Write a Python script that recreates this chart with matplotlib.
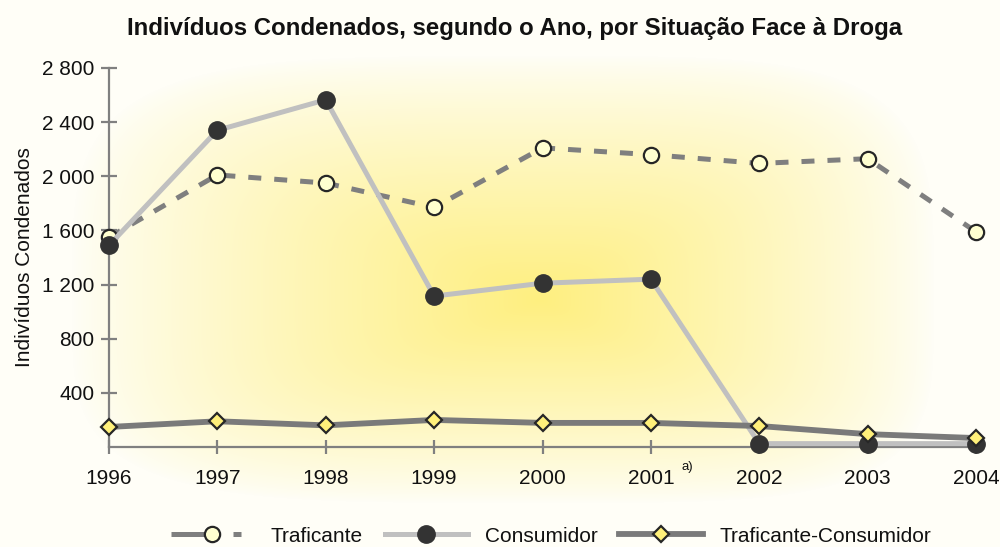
import numpy as np
import matplotlib
matplotlib.use("Agg")
import matplotlib.pyplot as plt
from matplotlib.lines import Line2D

plt.rcParams['font.family'] = ['Liberation Sans', 'DejaVu Sans']

years = [1996, 1997, 1998, 1999, 2000, 2001, 2002, 2003, 2004]
traficante = [1550, 2010, 1950, 1770, 2210, 2160, 2095, 2130, 1590]
consumidor = [1490, 2340, 2565, 1115, 1210, 1240, 25, 25, 25]
traf_cons = [148, 190, 160, 200, 178, 178, 155, 95, 66]
y_ticks = [400, 800, 1200, 1600, 2000, 2400, 2800]
y_tick_labels = ['400', '800', '1 200', '1 600', '2 000', '2 400', '2 800']

W, H = 1000, 547
bg = np.array([255, 254, 247]) / 255
center = np.array([254, 239, 128]) / 255

fig = plt.figure(figsize=(W / 100, H / 100), dpi=100, facecolor=bg)

# soft yellow glow behind the plot area
gax = fig.add_axes([0, 0, 1, 1], zorder=-5)
gax.set_xlim(0, W)
gax.set_ylim(H, 0)
gax.axis('off')
x0, x1, y0, y1 = 72, 934, 56, 503
cx, cy = 540, 300
xs = np.arange(x0, x1) + 0.5
ys = np.arange(y0, y1) + 0.5
X, Y = np.meshgrid(xs, ys)
dx = np.where(X < cx, (cx - X) / (cx - x0), (X - cx) / (x1 - cx))
dy = np.where(Y < cy, (cy - Y) / (cy - y0), (Y - cy) / (y1 - cy))
p = 4.0
t = np.clip((dx ** p + dy ** p) ** (1 / p), 0, 1)
w = (1 - t) ** 0.85
img = bg[None, None, :] * (1 - w[..., None]) + center[None, None, :] * w[..., None]
gax.imshow(img, extent=[x0, x1, y1, y0], interpolation='bilinear', aspect='auto')

ax = fig.add_axes([0.109, 1 - 447 / H, 0.867, (447 - 68) / H])
ax.set_facecolor('none')
ax.set_xlim(1996, 2004)
ax.set_ylim(0, 2800)

traf_style = dict(color='#7f7f7f', lw=3.6, marker='o', ms=11,
                  mfc='#FFFFD0', mec='#262626', mew=1.6)
cons_style = dict(color='#c0c0c0', lw=3.6, marker='o', ms=12.5,
                  mfc='#333333', mec='#333333', mew=1)
tc_style = dict(color='#7a7a7a', lw=4.2, marker='D', ms=8.5,
                mfc='#FFF07A', mec='#262626', mew=1.6)

ax.plot(years, traficante, dashes=(2.6, 2.6), clip_on=False, zorder=3, **traf_style)
ax.plot(years, consumidor, clip_on=False, zorder=4, **cons_style)
ax.plot(years, traf_cons, clip_on=False, zorder=5, **tc_style)

for side in ['top', 'right']:
    ax.spines[side].set_visible(False)
for side in ['left', 'bottom']:
    ax.spines[side].set_color('#808080')
    ax.spines[side].set_linewidth(1.6)
    ax.spines[side].set_zorder(2)

ax.set_xticks(years)
ax.set_xticklabels([str(y) for y in years])
ax.set_yticks(y_ticks)
ax.set_yticklabels(y_tick_labels)
ax.tick_params(axis='both', direction='inout', color='#808080', width=1.6,
               labelsize=15, labelcolor='#111111')
ax.tick_params(axis='x', length=10, pad=11)
ax.tick_params(axis='y', length=11, pad=5)

ax.set_ylabel('Indivíduos Condenados', fontsize=15, color='#111111', labelpad=6)
fig.text(0.515, 1 - 28 / H,
         'Indivíduos Condenados, segundo o Ano, por Situação Face à Droga',
         fontsize=17.3, fontweight='bold', color='#111111',
         ha='center', va='center')

ax.annotate('a)', xy=(2001, 0), xycoords='data', xytext=(36, -20),
            textcoords='offset pixels', fontsize=9.5, color='#111111',
            ha='center', va='center')

handles = [
    Line2D([], [], dashes=(6.8, 5.6, 1.6, 20), **traf_style),
    Line2D([], [], **cons_style),
    Line2D([], [], **tc_style),
]
labels = ['Traficante', 'Consumidor', 'Traficante-Consumidor']
fig.legend(handles, labels, loc='center', bbox_to_anchor=(0.551, 1 - 536 / H),
           ncol=3, frameon=False, fontsize=15, handlelength=4.0,
           columnspacing=1.05, handletextpad=0.8, labelcolor='#111111')

fig.savefig('out.png', dpi=100, facecolor=bg)
